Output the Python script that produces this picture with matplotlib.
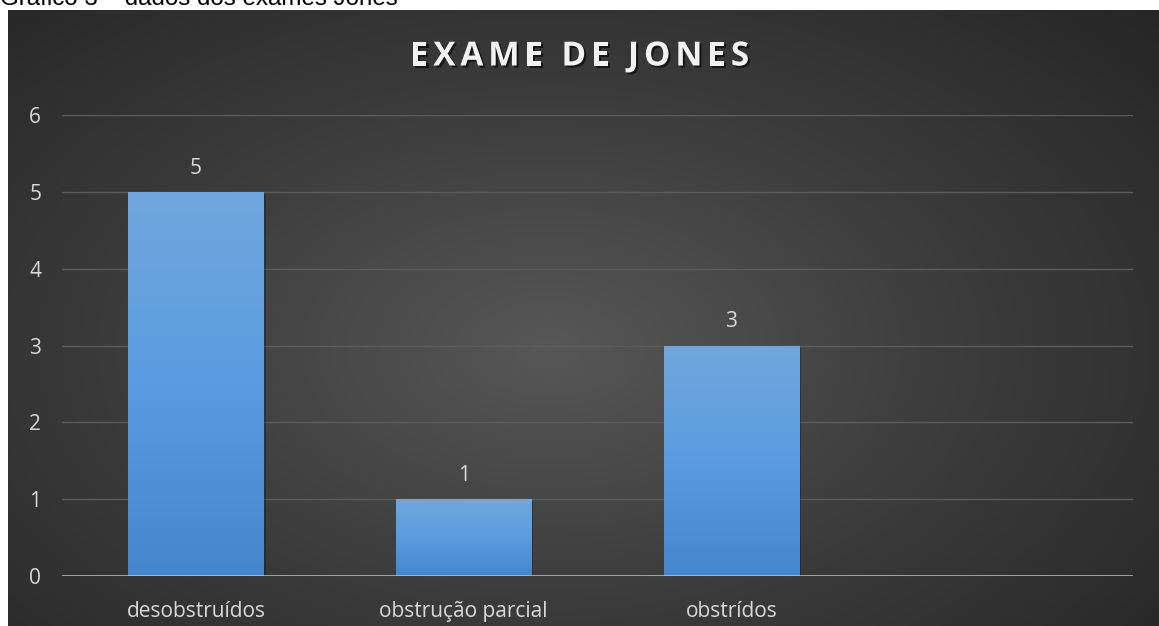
import numpy as np
import matplotlib
matplotlib.use("Agg")
import matplotlib.pyplot as plt
from matplotlib import patheffects
from matplotlib.colors import LinearSegmentedColormap

# dados
categorias = ["desobstruídos", "obstrução parcial", "obstrídos", ""]
valores = [5, 1, 3, 0]
rotulos = ["5", "1", "3", None]
y_ticks = [0, 1, 2, 3, 4, 5, 6]
titulo = "EXAME DE JONES"

W, H = 1159, 626
fig = plt.figure(figsize=(W / 100, H / 100), dpi=100)
fig.patch.set_facecolor("white")

# legenda do gráfico (cortada em cima, como no original)
fig.text(0.0, 1 - 5 / H, "Gráfico 3 – dados dos exames Jones",
         family="Liberation Sans", fontsize=17.4, color="black",
         ha="left", va="baseline")

# fundo com gradiente radial
bg = fig.add_axes([8 / W, 0, 1 - 8 / W, 1 - 10 / H])
bg.set_axis_off()
yy, xx = np.mgrid[0:1:300j, 0:1:600j]
r = np.sqrt(((xx - 0.47) / 0.75) ** 2 + ((yy - 0.45) / 0.85) ** 2)
r = np.clip(r, 0, 1)
cmap_bg = LinearSegmentedColormap.from_list("bg", ["#575757", "#3c3c3c", "#262626"])
bg.imshow(r, cmap=cmap_bg, aspect="auto", extent=[0, 1, 0, 1], origin="lower")
bg.set_xlim(0, 1)
bg.set_ylim(0, 1)

# eixo principal
ax = fig.add_axes([62 / W, (H - 576) / H, (1133 - 62) / W, (576 - 115) / H])
ax.patch.set_alpha(0)
x = np.arange(len(categorias))
bars = ax.bar(x, valores, width=0.505, color="none", zorder=2)

cmap_bar = LinearSegmentedColormap.from_list("bar", ["#4487cb", "#5b9be0", "#70a8dd"])
grad = np.linspace(0, 1, 256).reshape(-1, 1)
for b in bars:
    h = b.get_height()
    if h <= 0:
        continue
    x0, w = b.get_x(), b.get_width()
    # sombra
    ax.add_patch(plt.Rectangle((x0 + 0.008, -0.03), w, h, color="black",
                               alpha=0.25, zorder=1.5, lw=0))
    im = ax.imshow(grad, cmap=cmap_bar, aspect="auto", origin="lower",
                   extent=[x0, x0 + w, 0, h], zorder=2)
    im.set_clip_path(b)

for b, lab in zip(bars, rotulos):
    if lab is None:
        continue
    ax.text(b.get_x() + b.get_width() / 2, b.get_height() + 0.17, lab,
            ha="center", va="bottom", fontsize=15, color="#d9d9d9",
            family="Open Sans", zorder=4)

ax.set_xlim(-0.5, len(categorias) - 0.5)
ax.set_ylim(0, 6)
ax.set_yticks(y_ticks)
ax.set_yticklabels([str(v) for v in y_ticks], family="Open Sans",
                   fontsize=15, color="#d9d9d9")
ax.set_xticks(x)
ax.set_xticklabels(categorias, family="Open Sans", fontsize=15, color="#d9d9d9")
ax.tick_params(length=0, pad=15, axis="y")
ax.tick_params(length=0, pad=18, axis="x")
for s in ax.spines.values():
    s.set_visible(False)
ax.grid(axis="y", color="#5c5c5c", lw=1.0, zorder=0)
ax.set_axisbelow(True)
ax.axhline(0, color="#c8c8c8", alpha=0.8, lw=2, zorder=3)

# título com espaçamento entre letras
sombra = [patheffects.withSimplePatchShadow(offset=(1.5, -1.5),
                                            shadow_rgbFace="black", alpha=0.6)]
renderer = fig.canvas.get_renderer()
estilo = dict(family="Open Sans", fontweight="bold", fontsize=24, color="#f2f2f2")
espaco = 4.8
larguras = []
for ch in titulo:
    t = fig.text(0, 0, ch if ch != " " else "a a", **estilo)
    wch = t.get_window_extent(renderer).width
    if ch == " ":
        t2 = fig.text(0, 0, "aa", **estilo)
        wch = wch - t2.get_window_extent(renderer).width
        t2.remove()
    larguras.append(wch)
    t.remove()
total = sum(larguras) + espaco * (len(titulo) - 1)
xpos = W / 2 - total / 2
for ch, wch in zip(titulo, larguras):
    if ch != " ":
        fig.text(xpos / W, 1 - 57 / H, ch, ha="left", va="center",
                 path_effects=sombra, **estilo)
    xpos += wch + espaco

fig.savefig("out.png", dpi=100, facecolor=fig.get_facecolor())
